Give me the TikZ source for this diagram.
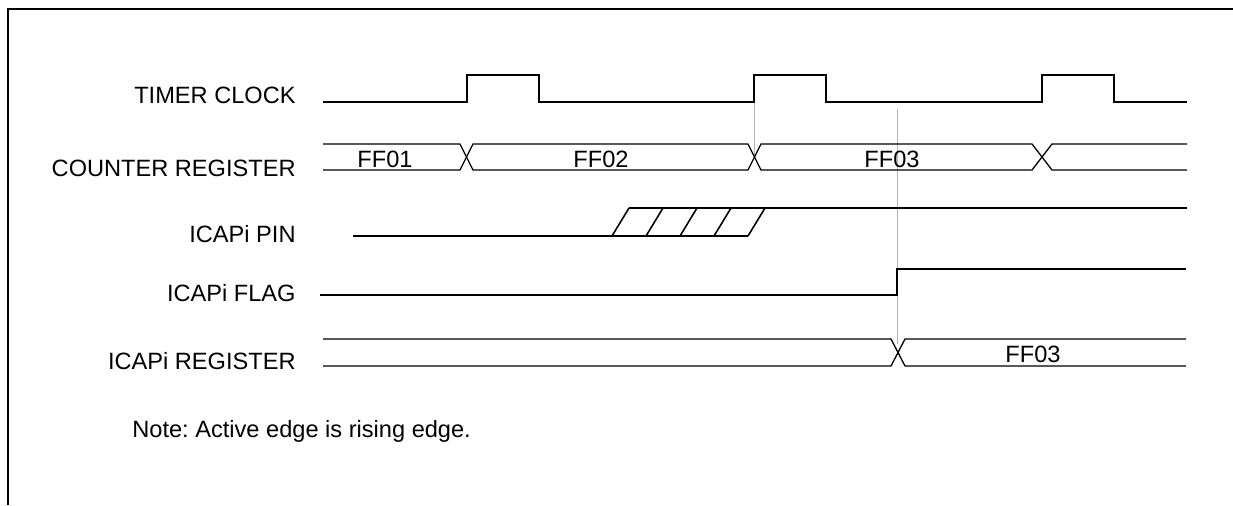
\documentclass[tikz,border=0pt]{standalone}
\usepackage{fontspec}
\setmainfont{Liberation Sans}
\frenchspacing
\begin{document}
\begin{tikzpicture}[x=0.5pt,y=-0.5pt,
  wave/.style={line width=0.8pt, line join=miter},
  bus/.style={line width=0.65pt},
  guide/.style={line width=0.4pt, draw=black!30},
  sig/.style={anchor=base east, inner sep=0pt, font=\fontsize{11.8pt}{13pt}\selectfont},
  val/.style={anchor=base, inner sep=0pt, font=\fontsize{11.8pt}{13pt}\selectfont},
  note/.style={anchor=base west, inner sep=0pt, font=\fontsize{11.8pt}{13pt}\selectfont}]
\useasboundingbox (0,0) rectangle (1233,505);
% frame
\draw[line width=1pt] (8,505) -- (8,9) -- (1233,9);
% labels
\node[sig] (lclk) at (296,103) {TIMER CLOCK};
\node[sig] (lcnt) at (296,176) {COUNTER REGISTER};
\node[sig] (lpin) at (296,242) {ICAPi PIN};
\node[sig] (lflg) at (296,301) {ICAPi FLAG};
\node[sig] (lreg) at (296,369) {ICAPi REGISTER};
\node[note] (nt) at (132,437) {Note: Active edge is rising edge.};
% guide lines
\draw[guide] (754,102) -- (754,157);
\draw[guide] (897,109) -- (897,344);
% timer clock
\draw[wave] (323,102) -- (467,102) -- (467,75) -- (539,75) -- (539,102) -- (754,102)
  -- (754,75) -- (826,75) -- (826,102) -- (1042,102) -- (1042,75) -- (1114,75)
  -- (1114,102) -- (1187,102);
% counter register
\draw[bus] (323,144) -- (460,144) -- (473,170) -- (748,170) -- (761,144) -- (1032,144) -- (1052,170) -- (1187,170);
\draw[bus] (323,170) -- (460,170) -- (473,144) -- (748,144) -- (761,170) -- (1032,170) -- (1052,144) -- (1187,144);
\node[val] (v1) at (385,167) {FF01};
\node[val] (v2) at (601,167) {FF02};
\node[val] (v3) at (892,167) {FF03};
% ICAPi pin
\draw[wave] (353,236) -- (748,236);
\draw[wave] (629,208) -- (1187,208);
\foreach \xx in {612,646,680,714,748}
  \draw[wave] (\xx,236) -- (\xx+17,208);
% ICAPi flag
\draw[wave] (320,295) -- (897,295) -- (897,269) -- (1186,269);
% ICAPi register
\draw[bus] (323,339) -- (891,339) -- (905,366) -- (1186,366);
\draw[bus] (323,366) -- (891,366) -- (905,339) -- (1186,339);
\node[val] (v4) at (1033,362) {FF03};
\end{tikzpicture}
\end{document}
